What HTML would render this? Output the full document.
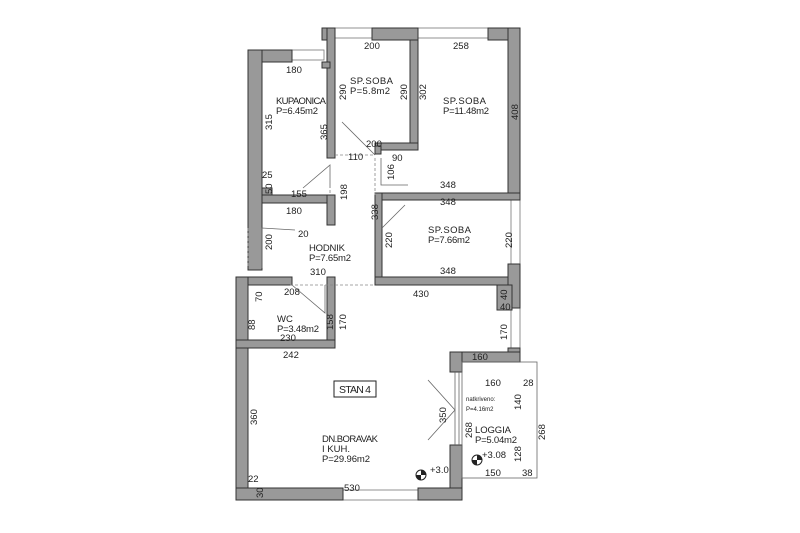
<!DOCTYPE html>
<html><head><meta charset="utf-8"><style>
html,body{margin:0;padding:0;background:#fff;}
svg{display:block}
text{font-family:"Liberation Sans",sans-serif;font-size:9.5px;fill:#222}
.w{fill:#999;stroke:#333;stroke-width:1}
.t{fill:none;stroke:#666;stroke-width:0.8}
.d{fill:none;stroke:#888;stroke-width:0.8;stroke-dasharray:3 2}
.win{fill:#fff;stroke:#777;stroke-width:0.8}
</style></head><body>
<svg width="800" height="533" viewBox="0 0 800 533">
<rect class="win" x="290" y="50" width="34" height="10"/>
<rect class="win" x="335" y="28" width="38" height="10"/>
<rect class="win" x="418" y="28" width="72" height="10"/>
<rect class="win" x="511" y="198" width="9" height="66"/>
<rect class="win" x="511" y="308" width="9" height="40"/>
<rect class="win" x="343" y="490" width="76" height="10"/>
<rect class="w" x="248" y="50" width="44" height="12"/>
<rect class="w" x="248" y="50" width="14" height="220"/>
<rect class="w" x="322" y="28" width="13" height="12"/>
<rect class="w" x="327" y="28" width="8" height="130"/>
<rect class="w" x="322" y="62" width="8" height="6"/>
<rect class="w" x="372" y="28" width="46" height="12"/>
<rect class="w" x="488" y="28" width="32" height="12"/>
<rect class="w" x="508" y="28" width="12" height="170"/>
<rect class="w" x="410" y="40" width="8" height="110"/>
<rect class="w" x="375" y="143" width="43" height="7"/>
<rect class="w" x="375" y="146" width="6" height="8"/>
<rect class="w" x="262" y="188" width="10" height="15"/>
<rect class="w" x="262" y="195" width="73" height="8"/>
<rect class="w" x="327" y="195" width="8" height="30"/>
<rect class="w" x="378" y="193" width="142" height="7"/>
<rect class="w" x="375" y="193" width="7" height="92"/>
<rect class="w" x="375" y="277" width="135" height="8"/>
<rect class="w" x="508" y="264" width="12" height="44"/>
<rect class="w" x="497" y="285" width="15" height="25"/>
<rect class="w" x="236" y="277" width="56" height="8"/>
<rect class="w" x="236" y="277" width="12" height="223"/>
<rect class="w" x="327" y="277" width="8" height="70"/>
<rect class="w" x="236" y="340" width="99" height="8"/>
<rect class="w" x="508" y="348" width="12" height="12"/>
<rect class="w" x="450" y="352" width="70" height="10"/>
<rect class="w" x="450" y="352" width="12" height="20"/>
<rect class="w" x="450" y="445" width="12" height="55"/>
<rect class="w" x="236" y="488" width="107" height="12"/>
<rect class="w" x="418" y="488" width="44" height="12"/>
<rect class="t" x="462" y="362" width="75" height="116"/>
<line class="t" x1="455" y1="372" x2="455" y2="445"/>
<line class="t" x1="459" y1="372" x2="459" y2="445"/>
<polyline class="t" points="428,380 455,410 428,440"/>
<line class="d" x1="248" y1="228" x2="248" y2="268"/>
<polyline class="t" points="262,268 262,228 295,230"/>
<polyline class="t" points="303,188 330,165 330,188"/>
<polyline class="t" points="342,122 375,155"/>
<polyline class="t" points="381,158 381,185 408,185"/>
<polyline class="t" points="382,228 405,205"/>
<polyline class="t" points="292,285 325,313 325,285"/>
<line class="d" x1="335" y1="155" x2="375" y2="155"/>
<line class="d" x1="330" y1="165" x2="330" y2="195"/>
<line class="d" x1="375" y1="158" x2="375" y2="195"/>
<line class="d" x1="290" y1="285" x2="375" y2="285"/>
<text x="286" y="73">180</text>
<text x="364" y="49">200</text>
<text x="453" y="49">258</text>
<text x="350" y="84" textLength="43">SP.SOBA</text>
<text x="350" y="94" textLength="40">P=5.8m2</text>
<text x="276" y="104" textLength="50">KUPAONICA</text>
<text x="276" y="114" textLength="42">P=6.45m2</text>
<text x="443" y="104" textLength="43">SP.SOBA</text>
<text x="443" y="114" textLength="46">P=11.48m2</text>
<text x="366" y="147">200</text>
<text x="348" y="160">110</text>
<text x="392" y="161">90</text>
<text x="440" y="188">348</text>
<text x="440" y="205">348</text>
<text x="262" y="178">25</text>
<text x="291" y="197">155</text>
<text x="286" y="214">180</text>
<text x="428" y="233" textLength="43">SP.SOBA</text>
<text x="428" y="243" textLength="42">P=7.66m2</text>
<text x="298" y="237">20</text>
<text x="309" y="251" textLength="36">HODNIK</text>
<text x="309" y="261" textLength="42">P=7.65m2</text>
<text x="310" y="275">310</text>
<text x="440" y="274">348</text>
<text x="284" y="295">208</text>
<text x="413" y="297">430</text>
<text x="277" y="322">WC</text>
<text x="277" y="332" textLength="42">P=3.48m2</text>
<text x="280" y="341">230</text>
<text x="283" y="358">242</text>
<text x="500" y="310">40</text>
<text x="472" y="360">160</text>
<text x="485" y="386">160</text>
<text x="523" y="386">28</text>
<text x="466" y="401" style="font-size:6px">natkriveno:</text>
<text x="466" y="411" style="font-size:6px">P=4.16m2</text>
<text x="475" y="433" textLength="36">LOGGIA</text>
<text x="475" y="443" textLength="42">P=5.04m2</text>
<text x="482" y="458">+3.08</text>
<text x="485" y="476">150</text>
<text x="522" y="476">38</text>
<text x="322" y="442" textLength="56">DN.BORAVAK</text>
<text x="322" y="452">I KUH.</text>
<text x="322" y="462" textLength="48">P=29.96m2</text>
<text x="430" y="473">+3.0</text>
<text x="344" y="491">530</text>
<text x="248" y="482">22</text>
<rect x="334" y="381" width="42" height="16" fill="none" stroke="#222" stroke-width="1"/>
<text x="339" y="393" style="font-size:10.5px" textLength="32">STAN 4</text>
<circle cx="421" cy="475" r="5" fill="none" stroke="#222"/>
<path d="M421 475 L421 470 A5 5 0 0 1 426 475 Z M421 475 L421 480 A5 5 0 0 1 416 475 Z" fill="#222"/>
<circle cx="477" cy="460" r="5" fill="none" stroke="#222"/>
<path d="M477 460 L477 455 A5 5 0 0 1 482 460 Z M477 460 L477 465 A5 5 0 0 1 472 460 Z" fill="#222"/>
<g transform="rotate(-90)">
<text x="-100" y="346">290</text>
<text x="-100" y="407">290</text>
<text x="-100" y="426">302</text>
<text x="-130" y="272">315</text>
<text x="-140" y="327">365</text>
<text x="-120" y="518">408</text>
<text x="-180" y="394">106</text>
<text x="-194" y="272">50</text>
<text x="-200" y="347">198</text>
<text x="-220" y="378">338</text>
<text x="-248" y="392">220</text>
<text x="-248" y="512">220</text>
<text x="-250" y="272">200</text>
<text x="-302" y="262">70</text>
<text x="-300" y="507">40</text>
<text x="-330" y="346">170</text>
<text x="-330" y="333">158</text>
<text x="-330" y="255">88</text>
<text x="-340" y="507">170</text>
<text x="-425" y="257">360</text>
<text x="-423" y="446">350</text>
<text x="-438" y="472">268</text>
<text x="-410" y="521">140</text>
<text x="-440" y="545">268</text>
<text x="-462" y="521">128</text>
<text x="-498" y="263">30</text>
</g>
</svg>
</body></html>
